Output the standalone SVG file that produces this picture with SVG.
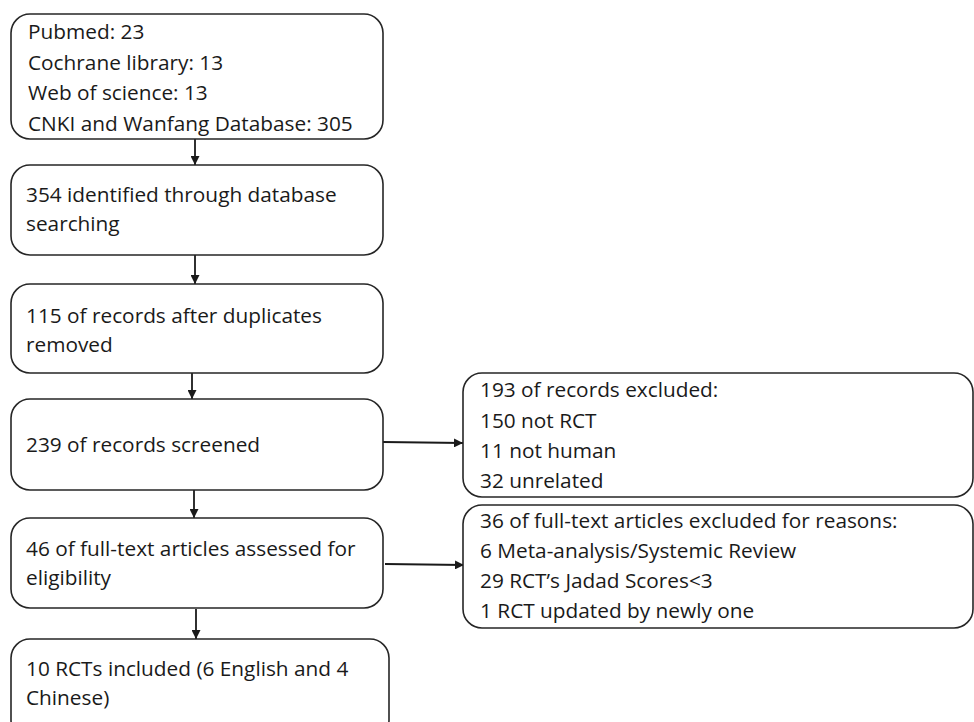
<svg xmlns="http://www.w3.org/2000/svg" width="974" height="722" viewBox="0 0 974 722">
<style>
.box{fill:#fff;stroke:#262626;stroke-width:1.6}
.t{font-family:"Open Sans","Liberation Sans",sans-serif;font-size:20.8px;fill:#1a1a1a}
.c{stroke:#1a1a1a;stroke-width:1.8;fill:none;marker-end:url(#ah)}
</style>
<defs>
<marker id="ah" viewBox="0 0 10 10" refX="10" refY="5" markerWidth="9" markerHeight="9" markerUnits="userSpaceOnUse" orient="auto">
<path d="M0,0 L10,5 L0,10 z" fill="#1a1a1a"/>
</marker>
</defs>
<rect width="974" height="722" fill="#fff"/>
<g id="connectors">
<line class="c" x1="195" y1="139" x2="195" y2="165"/>
<line class="c" x1="195" y1="255" x2="195" y2="284"/>
<line class="c" x1="192" y1="373" x2="192" y2="399"/>
<line class="c" x1="194" y1="490" x2="194" y2="518"/>
<line class="c" x1="196" y1="609" x2="196" y2="639"/>
<line class="c" x1="383" y1="442" x2="463" y2="443"/>
<line class="c" x1="385" y1="564" x2="464" y2="565"/>
</g>
<g id="n1">
<rect class="box" x="11" y="14" width="372" height="125" rx="19"/>
<text class="t" x="28" y="39">Pubmed: 23</text>
<text class="t" x="28" y="70">Cochrane library: 13</text>
<text class="t" x="28" y="100">Web of science: 13</text>
<text class="t" x="28" y="131">CNKI and Wanfang Database: 305</text>
</g>
<g id="n2">
<rect class="box" x="11" y="165" width="372" height="90" rx="19"/>
<text class="t" x="26" y="202">354 identified through database</text>
<text class="t" x="26" y="231">searching</text>
</g>
<g id="n3">
<rect class="box" x="11" y="284" width="372" height="89" rx="19"/>
<text class="t" x="26" y="323">115 of records after duplicates</text>
<text class="t" x="26" y="352">removed</text>
</g>
<g id="n4">
<rect class="box" x="11" y="399" width="372" height="91" rx="19"/>
<text class="t" x="26" y="452">239 of records screened</text>
</g>
<g id="n5">
<rect class="box" x="11" y="518" width="372" height="90" rx="19"/>
<text class="t" x="26" y="556">46 of full-text articles assessed for</text>
<text class="t" x="26" y="585">eligibility</text>
</g>
<g id="n6">
<rect class="box" x="11" y="639" width="378" height="100" rx="19"/>
<text class="t" x="26" y="676">10 RCTs included (6 English and 4</text>
<text class="t" x="26" y="705">Chinese)</text>
</g>
<g id="n7">
<rect class="box" x="463" y="373" width="510" height="124" rx="19"/>
<text class="t" x="480" y="397">193 of records excluded:</text>
<text class="t" x="480" y="428">150 not RCT</text>
<text class="t" x="480" y="458">11 not human</text>
<text class="t" x="480" y="488">32 unrelated</text>
</g>
<g id="n8">
<rect class="box" x="463" y="505" width="510" height="123" rx="19"/>
<text class="t" x="480" y="528">36 of full-text articles excluded for reasons:</text>
<text class="t" x="480" y="558">6 Meta-analysis/Systemic Review</text>
<text class="t" x="480" y="588">29 RCT’s Jadad Scores&lt;3</text>
<text class="t" x="480" y="618">1 RCT updated by newly one</text>
</g>
</svg>
